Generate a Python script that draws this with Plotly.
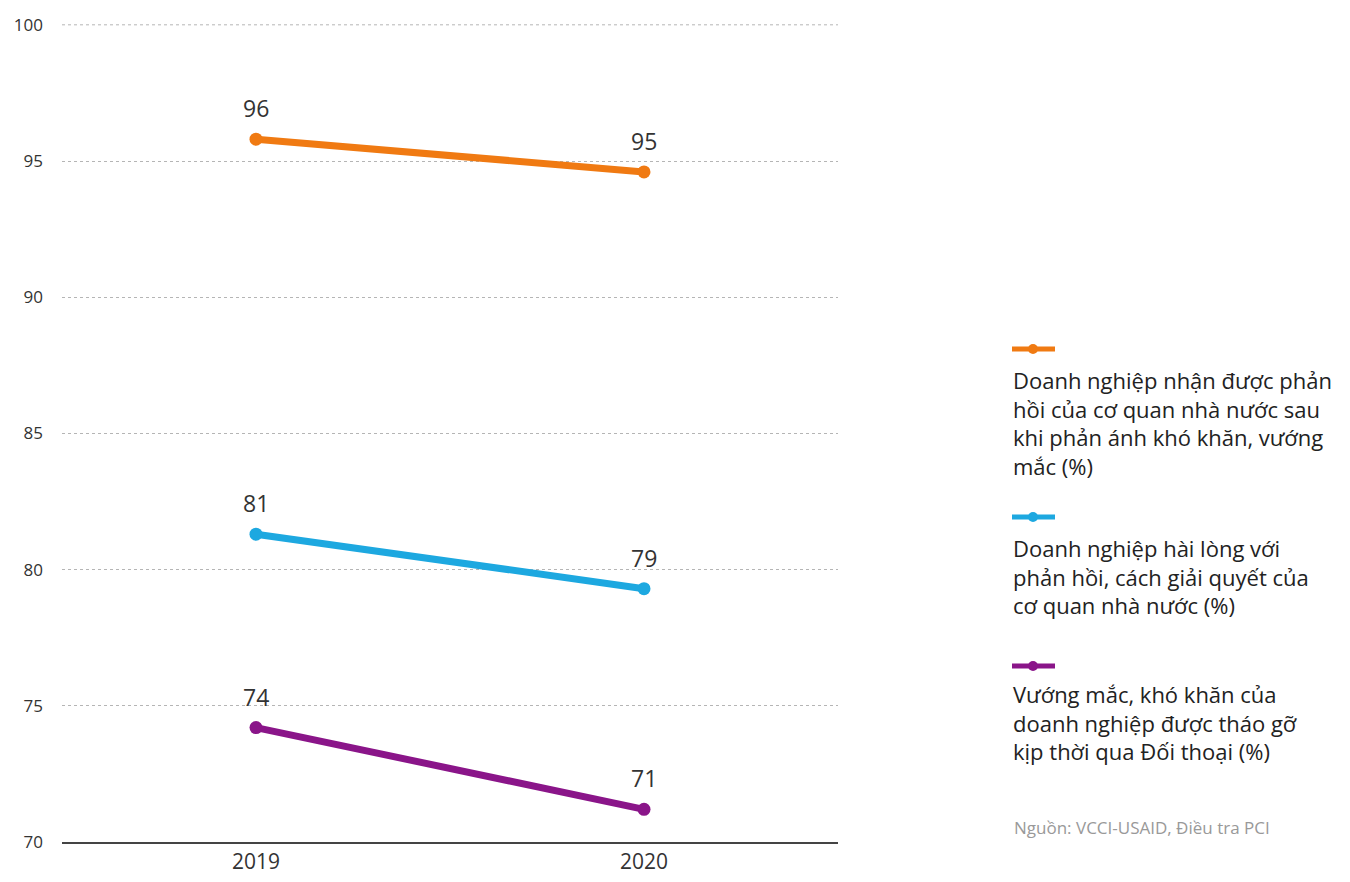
import plotly.graph_objects as go

years = ["2019", "2020"]
s_orange = [95.8, 94.6]
s_blue = [81.3, 79.3]
s_purple = [74.2, 71.2]
series_names = [
    "Doanh nghiệp nhận được phản<br>hồi của cơ quan nhà nước sau<br>khi phản ánh khó khăn, vướng<br>mắc (%)",
    "Doanh nghiệp hài lòng với<br>phản hồi, cách giải quyết của<br>cơ quan nhà nước (%)",
    "Vướng mắc, khó khăn của<br>doanh nghiệp được tháo gỡ<br>kịp thời qua Đối thoại (%)",
]
colors = ["#F07A12", "#1DA8E0", "#8A1589"]
y_ticks = [70, 75, 80, 85, 90, 95, 100]
source = "Nguồn: VCCI-USAID, Điều tra PCI"

FONT = "Open Sans"
OFF = 8  # page body margin
W, H = 1350 - 2 * OFF, 882 - 2 * OFF
L, T = 62 - OFF, 24 - OFF
R = W - (838 - OFF)
B = H - (842 - OFF)
pw, ph = W - L - R, H - T - B

def px(x):
    return (x - OFF - L) / pw

def py(y):
    return (H - B - (y - OFF)) / ph

fig = go.Figure()
annotations = []
shapes = []
for vals, name, col in zip([s_orange, s_blue, s_purple], series_names, colors):
    fig.add_trace(go.Scatter(
        x=years, y=vals, mode="lines+markers", name=name,
        line=dict(color=col, width=7),
        marker=dict(color=col, size=13),
        showlegend=False, hoverinfo="x+y",
    ))
    for i, yv in enumerate(vals):
        annotations.append(dict(
            x=i, y=yv, xref="x", yref="y", text=f"{yv:.0f}",
            showarrow=False, yshift=31,
            font=dict(family=FONT, size=23, color="#333333"),
        ))

# top gridline (kept visible at the plot edge)
shapes.append(dict(type="line", xref="paper", yref="y", layer="below",
                   x0=0, x1=1, y0=y_ticks[-1], y1=y_ticks[-1],
                   line=dict(color="#b5b5b5", width=1, dash="dot")))

# custom legend (symbol above text)
leg_sym_y = [349, 517, 666]
leg_text_y = [363, 531, 677]
for sy, ty, name, col in zip(leg_sym_y, leg_text_y, series_names, colors):
    shapes.append(dict(type="line", xref="paper", yref="paper",
                       x0=px(1012), x1=px(1055), y0=py(sy), y1=py(sy),
                       line=dict(color=col, width=5)))
    shapes.append(dict(type="circle", xref="paper", yref="paper",
                       x0=px(1028), x1=px(1038), y0=py(sy - 5), y1=py(sy + 5),
                       fillcolor=col, line=dict(color=col, width=0)))
    annotations.append(dict(
        x=px(1011), y=py(ty), xref="paper", yref="paper",
        xanchor="left", yanchor="top", align="left",
        text=name, showarrow=False,
        font=dict(family=FONT, size=22, color="#222222"),
    ))

annotations.append(dict(
    x=px(1012), y=py(827), xref="paper", yref="paper",
    xanchor="left", yanchor="middle", align="left",
    text=source, showarrow=False,
    font=dict(family=FONT, size=17, color="#999999"),
))

fig.update_layout(
    width=W, height=H,
    margin=dict(l=L, r=R, t=T, b=B, autoexpand=False),
    paper_bgcolor="white", plot_bgcolor="white",
    font=dict(family=FONT, color="#333333"),
    annotations=annotations, shapes=shapes,
    showlegend=False,
)
fig.update_xaxes(
    type="category", range=[-0.5, 1.5],
    showgrid=False, showline=True, linecolor="#444444", linewidth=1.5,
    ticks="", tickfont=dict(family=FONT, size=21, color="#333333"),
    ticklabelstandoff=0,
)
fig.update_yaxes(
    range=[70, 100.03], tickvals=y_ticks, ticktext=[str(v) for v in y_ticks],
    showgrid=True, gridcolor="#b5b5b5", griddash="dot", gridwidth=1,
    zeroline=False, showline=False, ticks="",
    tickfont=dict(family=FONT, size=17, color="#333333"),
    ticklabelstandoff=18,
)

fig.write_html("out.html")
